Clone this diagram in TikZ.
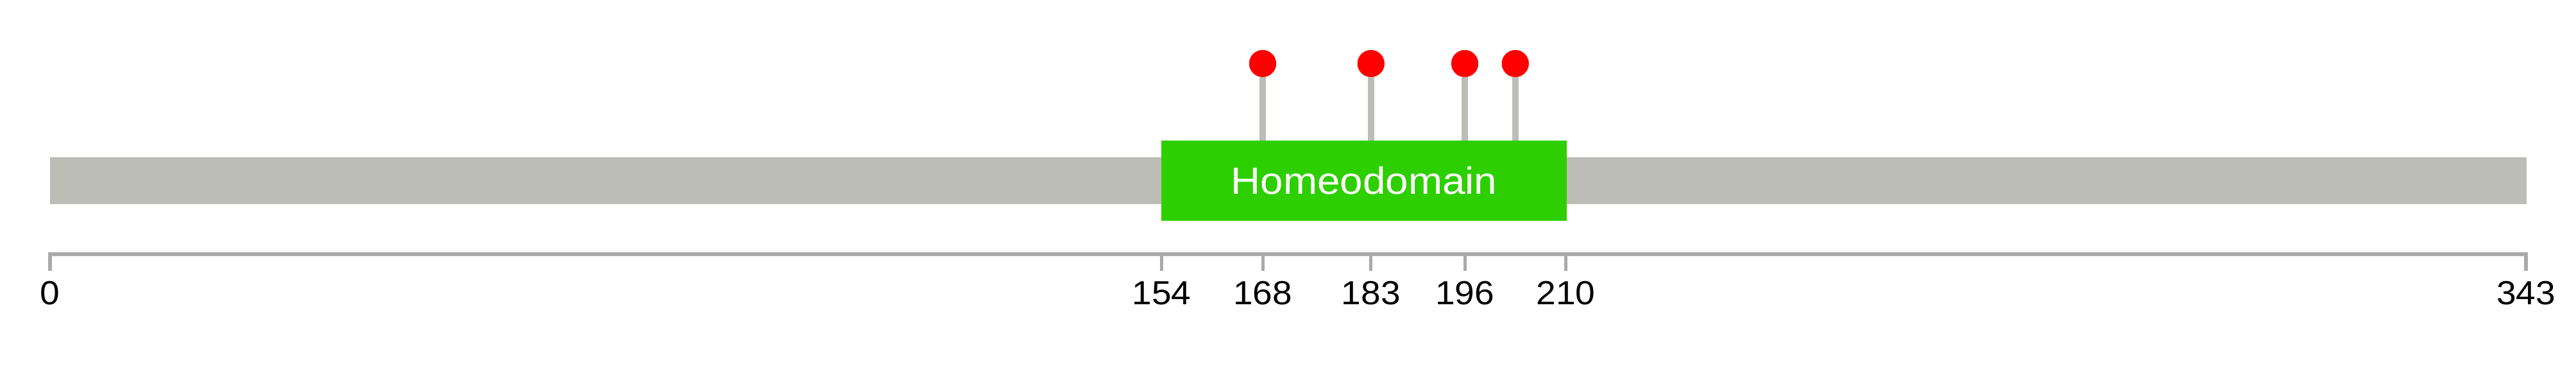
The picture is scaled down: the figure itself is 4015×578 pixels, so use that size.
\documentclass[tikz,border=0pt]{standalone}
\usepackage{fontspec}
\setmainfont{Liberation Sans}
\definecolor{bargray}{RGB}{187,189,182}
\definecolor{axisgray}{RGB}{170,170,170}
\definecolor{domgreen}{RGB}{46,207,0}
\definecolor{pinred}{RGB}{255,0,0}
\tikzset{
  protbar/.style={fill=bargray, draw=none},
  dombox/.style={fill=domgreen, draw=none, inner sep=0pt},
  stem/.style={draw=bargray, line width=10pt},
  pinhead/.style={circle, fill=pinred, draw=none, minimum size=42pt, inner sep=0pt},
  axisline/.style={draw=axisgray, line width=6pt},
  ticklab/.style={anchor=base, inner sep=0pt, font=\fontsize{52}{60}\selectfont},
}
\begin{document}
\begin{tikzpicture}[x=1pt,y=-1pt]
\useasboundingbox (0,0) rectangle (4015,578);
% protein bar
\node[protbar, minimum width=3860pt, minimum height=73pt, inner sep=0pt] (bar) at (2008,281.5) {};
% domain
\node[dombox, minimum width=632pt, minimum height=125pt] (dom) at (2126,281.5) {};
\node[anchor=base, inner sep=0pt, text=white, font=\fontsize{59}{66}\selectfont] (domlab) at (2126,302) {\scalebox{1.08}[1]{Homeodomain}};
% lollipops
\foreach \n/\px in {a/1968, b/2136.75, c/2283, d/2361.75} {
  \coordinate (s\n) at (\px,219);
  \node[pinhead] (h\n) at (\px,99) {};
}
\foreach \n in {a,b,c,d} {
  \draw[stem] (h\n.center) -- (s\n);
  \node[pinhead] at (h\n.center) {};
}
% axis
\coordinate (a0t) at (78,396);
\coordinate (a0b) at (78,422);
\coordinate (a1t) at (3937,396);
\coordinate (a1b) at (3937,422);
\draw[axisline, line join=miter] (a0b) -- (a0t) -- (a1t) -- (a1b);
\foreach \v/\px in {154/1810.5, 168/1968, 183/2136.75, 196/2283, 210/2440.5} {
  \draw[draw=axisgray, line width=5pt] (\px,399) -- (\px,422);
  \node[ticklab] at (\px,474) {\scalebox{1.06}[1]{\v}};
}
\node[ticklab] (l0) at (78,474) {\scalebox{1.06}[1]{0}};
\node[ticklab] (l343) at (3937,474) {\scalebox{1.06}[1]{343}};
\end{tikzpicture}
\end{document}
